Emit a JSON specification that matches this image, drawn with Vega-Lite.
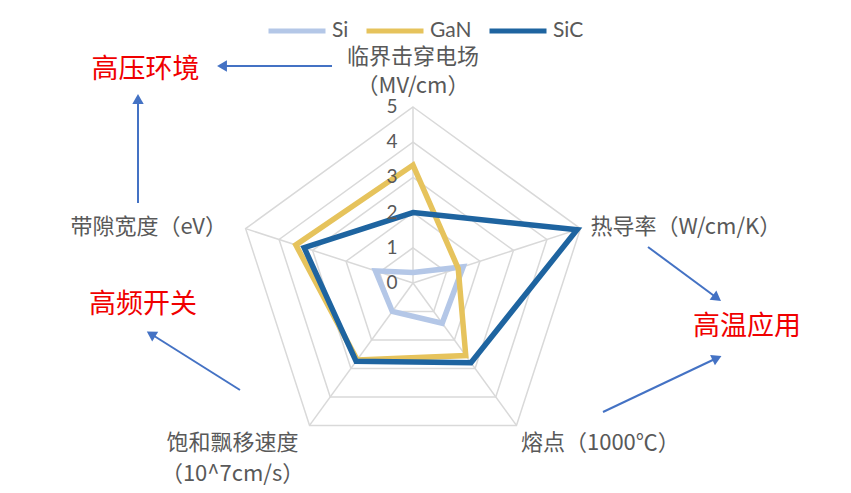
{
  "$schema": "https://vega.github.io/schema/vega-lite/v6.json",
  "width": 851,
  "height": 493,
  "autosize": "none",
  "padding": 0,
  "background": "white",
  "config": {"view": {"stroke": null}},
  "datasets": {
    "grid": [
      {"level": 1, "axis": 0}, {"level": 1, "axis": 1}, {"level": 1, "axis": 2}, {"level": 1, "axis": 3}, {"level": 1, "axis": 4},
      {"level": 2, "axis": 0}, {"level": 2, "axis": 1}, {"level": 2, "axis": 2}, {"level": 2, "axis": 3}, {"level": 2, "axis": 4},
      {"level": 3, "axis": 0}, {"level": 3, "axis": 1}, {"level": 3, "axis": 2}, {"level": 3, "axis": 3}, {"level": 3, "axis": 4},
      {"level": 4, "axis": 0}, {"level": 4, "axis": 1}, {"level": 4, "axis": 2}, {"level": 4, "axis": 3}, {"level": 4, "axis": 4},
      {"level": 5, "axis": 0}, {"level": 5, "axis": 1}, {"level": 5, "axis": 2}, {"level": 5, "axis": 3}, {"level": 5, "axis": 4}
    ],
    "radar": [
      {"material": "Si", "axis": 0, "value": 0.3},
      {"material": "Si", "axis": 1, "value": 1.5},
      {"material": "Si", "axis": 2, "value": 1.41},
      {"material": "Si", "axis": 3, "value": 1.0},
      {"material": "Si", "axis": 4, "value": 1.12},
      {"material": "GaN", "axis": 0, "value": 3.35},
      {"material": "GaN", "axis": 1, "value": 1.35},
      {"material": "GaN", "axis": 2, "value": 2.55},
      {"material": "GaN", "axis": 3, "value": 2.7},
      {"material": "GaN", "axis": 4, "value": 3.5},
      {"material": "SiC", "axis": 0, "value": 2.0},
      {"material": "SiC", "axis": 1, "value": 4.9},
      {"material": "SiC", "axis": 2, "value": 2.8},
      {"material": "SiC", "axis": 3, "value": 2.75},
      {"material": "SiC", "axis": 4, "value": 3.25}
    ],
    "ticks": [{"level": 0}, {"level": 1}, {"level": 2}, {"level": 3}, {"level": 4}, {"level": 5}],
    "axes": [
      {"axis": 0, "label": "临界击穿电场\n（MV/cm）"},
      {"axis": 1, "label": "热导率（W/cm/K）"},
      {"axis": 2, "label": "熔点（1000℃）"},
      {"axis": 3, "label": "饱和飘移速度\n（10^7cm/s）"},
      {"axis": 4, "label": "带隙宽度（eV）"}
    ],
    "notes": [
      {"label": "高压环境", "x": -7.60, "y": 6.05},
      {"label": "高频开关", "x": -7.67, "y": -0.625},
      {"label": "高温应用", "x": 9.49, "y": -1.25}
    ],
    "arrows": [
      {"x": -2.301, "y": 6.165, "x2": -5.426, "y2": 6.165, "angle": 270},
      {"x": -7.813, "y": 2.273, "x2": -7.813, "y2": 5.227, "angle": 0},
      {"x": -4.915, "y": -3.040, "x2": -7.443, "y2": -1.449, "angle": 302},
      {"x": 6.676, "y": 1.023, "x2": 8.636, "y2": -0.426, "angle": 126},
      {"x": 5.398, "y": -3.665, "x2": 8.636, "y2": -2.131, "angle": 65}
    ]
  },
  "encoding": {
    "x": {"field": "x", "type": "quantitative", "scale": {"domain": [-11.733, 12.443], "nice": false, "zero": false}, "axis": null},
    "y": {"field": "y", "type": "quantitative", "scale": {"domain": [-5.966, 8.040], "nice": false, "zero": false}, "axis": null}
  },
  "layer": [
    {
      "data": {"name": "grid"},
      "transform": [
        {"calculate": "PI/2 - datum.axis*2*PI/5", "as": "t"},
        {"calculate": "datum.level*cos(datum.t)", "as": "x"},
        {"calculate": "datum.level*sin(datum.t)", "as": "y"}
      ],
      "mark": {"type": "line", "interpolate": "linear-closed", "color": "#D9D9D9", "strokeWidth": 1.5},
      "encoding": {"detail": {"field": "level", "type": "nominal"}, "order": {"field": "axis", "type": "quantitative"}}
    },
    {
      "data": {"name": "grid"},
      "transform": [
        {"filter": "datum.level == 5"},
        {"calculate": "PI/2 - datum.axis*2*PI/5", "as": "t"},
        {"calculate": "0", "as": "x"},
        {"calculate": "0", "as": "y"},
        {"calculate": "datum.level*cos(datum.t)", "as": "xe"},
        {"calculate": "datum.level*sin(datum.t)", "as": "ye"}
      ],
      "mark": {"type": "rule", "color": "#D9D9D9", "strokeWidth": 1.5},
      "encoding": {"x2": {"field": "xe"}, "y2": {"field": "ye"}}
    },
    {
      "data": {"name": "radar"},
      "transform": [
        {"calculate": "PI/2 - datum.axis*2*PI/5", "as": "t"},
        {"calculate": "datum.value*cos(datum.t)", "as": "x"},
        {"calculate": "datum.value*sin(datum.t)", "as": "y"}
      ],
      "mark": {"type": "line", "interpolate": "linear-closed", "strokeWidth": 5.5, "strokeJoin": "miter"},
      "encoding": {
        "color": {
          "field": "material", "type": "nominal",
          "scale": {"domain": ["Si", "GaN", "SiC"], "range": ["#B4C7E7", "#E6C35C", "#1E64A0"]},
          "legend": {
            "orient": "none", "legendX": 266, "legendY": 0, "direction": "horizontal", "title": null,
            "gridAlign": "none",
            "symbolType": "stroke", "symbolSize": 3249, "symbolStrokeWidth": 5,
            "labelFontSize": 21, "labelColor": "#595959", "labelFont": "Lato", "labelOffset": 4, "columnPadding": 7
          }
        },
        "order": {"field": "axis", "type": "quantitative"}
      }
    },
    {
      "data": {"name": "ticks"},
      "transform": [
        {"calculate": "0", "as": "x"},
        {"calculate": "datum.level", "as": "y"}
      ],
      "mark": {"type": "text", "dx": -21, "fontSize": 19, "color": "#595959", "font": "Lato", "align": "center", "baseline": "middle"},
      "encoding": {"text": {"field": "level", "type": "quantitative", "format": "d"}}
    },
    {
      "data": {"name": "axes"},
      "transform": [
        {"filter": "datum.axis == 0"},
        {"calculate": "PI/2 - datum.axis*2*PI/5", "as": "t"},
        {"calculate": "5*cos(datum.t)", "as": "x"},
        {"calculate": "5*sin(datum.t)", "as": "y"}
      ],
      "mark": {"type": "text", "lineBreak": "\n", "lineHeight": 29, "align": "center", "baseline": "middle", "dy": -50, "fontSize": 22, "color": "#595959", "font": "Noto Sans CJK SC"},
      "encoding": {"text": {"field": "label", "type": "nominal"}}
    },
    {
      "data": {"name": "axes"},
      "transform": [
        {"filter": "datum.axis == 1"},
        {"calculate": "PI/2 - datum.axis*2*PI/5", "as": "t"},
        {"calculate": "5*cos(datum.t)", "as": "x"},
        {"calculate": "5*sin(datum.t)", "as": "y"}
      ],
      "mark": {"type": "text", "align": "left", "baseline": "middle", "dx": 10, "dy": -1.6, "fontSize": 22, "color": "#595959", "font": "Noto Sans CJK SC"},
      "encoding": {"text": {"field": "label", "type": "nominal"}}
    },
    {
      "data": {"name": "axes"},
      "transform": [
        {"filter": "datum.axis == 2"},
        {"calculate": "PI/2 - datum.axis*2*PI/5", "as": "t"},
        {"calculate": "5*cos(datum.t)", "as": "x"},
        {"calculate": "5*sin(datum.t)", "as": "y"}
      ],
      "mark": {"type": "text", "align": "left", "baseline": "middle", "dx": 4.5, "dy": 17.6, "fontSize": 22, "color": "#595959", "font": "Noto Sans CJK SC"},
      "encoding": {"text": {"field": "label", "type": "nominal"}}
    },
    {
      "data": {"name": "axes"},
      "transform": [
        {"filter": "datum.axis == 3"},
        {"calculate": "PI/2 - datum.axis*2*PI/5", "as": "t"},
        {"calculate": "5*cos(datum.t)", "as": "x"},
        {"calculate": "5*sin(datum.t)", "as": "y"}
      ],
      "mark": {"type": "text", "lineBreak": "\n", "lineHeight": 31, "align": "center", "baseline": "middle", "dx": -77, "dy": 17.6, "fontSize": 22, "color": "#595959", "font": "Noto Sans CJK SC"},
      "encoding": {"text": {"field": "label", "type": "nominal"}}
    },
    {
      "data": {"name": "axes"},
      "transform": [
        {"filter": "datum.axis == 4"},
        {"calculate": "PI/2 - datum.axis*2*PI/5", "as": "t"},
        {"calculate": "5*cos(datum.t)", "as": "x"},
        {"calculate": "5*sin(datum.t)", "as": "y"}
      ],
      "mark": {"type": "text", "align": "right", "baseline": "middle", "dx": -18.6, "dy": -1.6, "fontSize": 22, "color": "#595959", "font": "Noto Sans CJK SC"},
      "encoding": {"text": {"field": "label", "type": "nominal"}}
    },
    {
      "data": {"name": "notes"},
      "mark": {"type": "text", "align": "center", "baseline": "middle", "fontSize": 27, "color": "#F00000", "font": "Noto Sans CJK SC"},
      "encoding": {"text": {"field": "label", "type": "nominal"}}
    },
    {
      "data": {"name": "arrows"},
      "mark": {"type": "rule", "color": "#4472C4", "strokeWidth": 2},
      "encoding": {"x2": {"field": "x2"}, "y2": {"field": "y2"}}
    },
    {
      "data": {"name": "arrows"},
      "mark": {"type": "point", "shape": "triangle-up", "filled": true, "size": 130, "color": "#4472C4", "opacity": 1},
      "encoding": {
        "x": {"field": "x2", "type": "quantitative"},
        "y": {"field": "y2", "type": "quantitative"},
        "angle": {"field": "angle", "type": "quantitative", "scale": null}
      }
    }
  ]
}
